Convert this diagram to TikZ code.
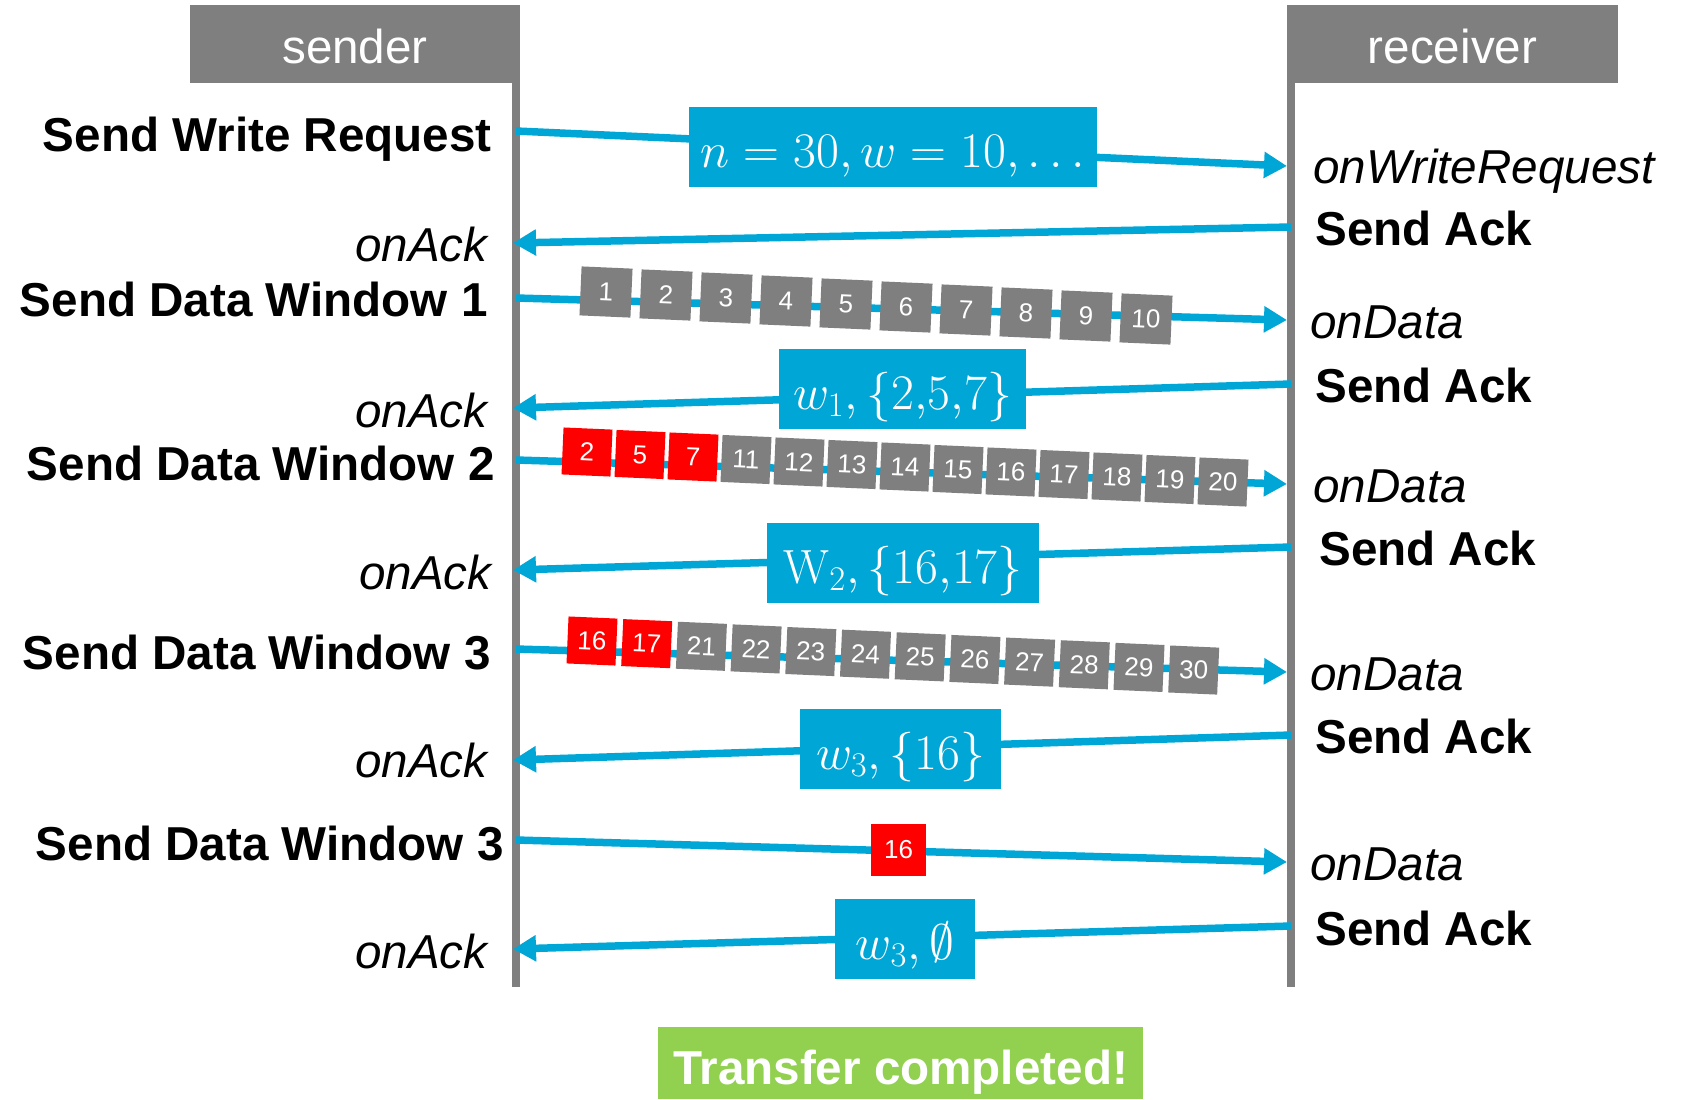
\documentclass[tikz,border=0pt]{standalone}
\usepackage{fontspec}
\setmainfont{Liberation Sans}
\setmathrm{Latin Modern Roman}
\usetikzlibrary{arrows.meta}
\definecolor{hdrgray}{RGB}{127,127,127}
\definecolor{msgblue}{RGB}{0,166,214}
\definecolor{okgreen}{RGB}{146,208,80}
\definecolor{pktred}{RGB}{255,0,0}
\begin{document}
\begin{tikzpicture}[x=0.5pt,y=-0.5pt,
  hdr/.style={fill=hdrgray, text=white, inner sep=0pt, font=\fontsize{23.8}{28}\selectfont, minimum height=39pt, text height=19pt, text depth=0pt},
  life/.style={draw=hdrgray, line width=4pt},
  msg/.style={draw=msgblue, line width=3.75pt, -{Triangle[length=11.5pt,width=12.5pt]}},
  lbl/.style={fill=msgblue, text=white, inner sep=0pt, minimum height=40pt, text height=20.5pt, text depth=0pt, font=\fontsize{24}{28}\selectfont},
  pkt/.style={text=white, inner sep=0pt, minimum width=24.5pt, minimum height=23.5pt, font=\fontsize{13}{14}\selectfont},
  act/.style={inner sep=0pt, font=\fontsize{23.8}{28}\selectfont\bfseries},
  evt/.style={inner sep=0pt, font=\fontsize{23.8}{28}\selectfont\itshape},
]
\fill[white] (0,0) rectangle (1686,1099);
\useasboundingbox (0,0) rectangle (1686,1099);

% headers
\node[hdr, minimum width=165pt] (sender) at (355,44) {sender};
\node[hdr, minimum width=165.5pt] (receiver) at (1452.5,44) {receiver};

% lifelines
\coordinate (stop) at (516,83);
\coordinate (sbot) at (516,987);
\coordinate (rtop) at (1291,83);
\coordinate (rbot) at (1291,987);
\draw[life] (stop) -- (sbot);
\draw[life] (rtop) -- (rbot);

% message end points
\coordinate (s1) at (516,131);  \coordinate (r1) at (1287,166);
\coordinate (r2) at (1291,227); \coordinate (s2) at (513,243);
\coordinate (s3) at (516,298);  \coordinate (r3) at (1287,320);
\coordinate (r4) at (1291,384); \coordinate (s4) at (513,408);
\coordinate (s5) at (516,460);  \coordinate (r5) at (1287,484);
\coordinate (r6) at (1291,547); \coordinate (s6) at (513,570);
\coordinate (s7) at (516,649);  \coordinate (r7) at (1287,672);
\coordinate (r8) at (1291,735); \coordinate (s8) at (513,760);
\coordinate (s9) at (516,840);  \coordinate (r9) at (1287,862);
\coordinate (r10) at (1291,926); \coordinate (s10) at (513,949);

\draw[msg] (s1) -- (r1);
\draw[msg] (r2) -- (s2);
\draw[msg] (s3) -- (r3);
\draw[msg] (r4) -- (s4);
\draw[msg] (s5) -- (r5);
\draw[msg] (r6) -- (s6);
\draw[msg] (s7) -- (r7);
\draw[msg] (r8) -- (s8);
\draw[msg] (s9) -- (r9);
\draw[msg] (r10) -- (s10);

% message labels
\node[lbl, minimum width=204pt] (m1) at (893,146.5) {$n = 30, w = 10, \ldots$};
\node[lbl, minimum width=123.5pt] (m4) at (902.5,389) {$w_1, \{2{,}5{,}7\}$};
\node[lbl, minimum width=136pt] (m6) at (903,563) {$\mathrm{W}_2, \{16{,}17\}$};
\node[lbl, minimum width=100.5pt] (m8) at (900.5,749) {$w_3, \{16\}$};
\node[lbl, minimum width=70pt] (m10) at (905,939) {$w_3, \emptyset$};

% packets window 1
\foreach \n [count=\k from 0] in {1,...,10}
  \node[pkt, fill=hdrgray, rotate=-2.5, minimum width=25.5pt, minimum height=24.5pt] (a\n) at ({606+60*\k},{292+3*\k}) {\n};
% packets window 2
\foreach \n/\c [count=\k from 0] in {2/pktred,5/pktred,7/pktred,11/hdrgray,12/hdrgray,13/hdrgray,14/hdrgray,15/hdrgray,16/hdrgray,17/hdrgray,18/hdrgray,19/hdrgray,20/hdrgray}
  \node[pkt, fill=\c, rotate=-2.5] (b\n) at ({587+53*\k},{452+2.5*\k}) {\n};
% packets window 3
\foreach \n/\c [count=\k from 0] in {16/pktred,17/pktred,21/hdrgray,22/hdrgray,23/hdrgray,24/hdrgray,25/hdrgray,26/hdrgray,27/hdrgray,28/hdrgray,29/hdrgray,30/hdrgray}
  \node[pkt, fill=\c, rotate=-2.5] (c\n) at ({592+54.7*\k},{641+2.64*\k}) {\n};
% retransmitted packet
\node[pkt, fill=pktred, minimum width=27.5pt, minimum height=26pt] (d16) at (898.5,850) {16};

% sender side labels
\node[act, anchor=base east] (l1) at (492,151) {Send Write Request};
\node[evt, anchor=base east] (l2) at (488,261) {onAck};
\node[act, anchor=base east] (l3) at (488,316) {Send Data Window 1};
\node[evt, anchor=base east] (l4) at (488,427) {onAck};
\node[act, anchor=base east] (l5) at (495,480) {Send Data Window 2};
\node[evt, anchor=base east] (l6) at (492,589) {onAck};
\node[act, anchor=base east] (l7) at (491,669) {Send Data Window 3};
\node[evt, anchor=base east] (l8) at (488,777) {onAck};
\node[act, anchor=base east] (l9) at (504,860) {Send Data Window 3};
\node[evt, anchor=base east] (l10) at (488,968) {onAck};

% receiver side labels
\node[evt, anchor=base west] (q1) at (1313,183) {onWriteRequest};
\node[act, anchor=base west] (q2) at (1315,245) {Send Ack};
\node[evt, anchor=base west] (q3) at (1310,338) {onData};
\node[act, anchor=base west] (q4) at (1315,402) {Send Ack};
\node[evt, anchor=base west] (q5) at (1313,502) {onData};
\node[act, anchor=base west] (q6) at (1319,565) {Send Ack};
\node[evt, anchor=base west] (q7) at (1310,690) {onData};
\node[act, anchor=base west] (q8) at (1315,753) {Send Ack};
\node[evt, anchor=base west] (q9) at (1310,880) {onData};
\node[act, anchor=base west] (q10) at (1315,945) {Send Ack};

% completion
\node[fill=okgreen, text=white, inner sep=0pt, minimum width=242.5pt, minimum height=36pt, text height=21pt, text depth=0pt, font=\fontsize{23.8}{28}\selectfont\bfseries] (done) at (900.5,1063) {Transfer completed!};
\end{tikzpicture}
\end{document}
